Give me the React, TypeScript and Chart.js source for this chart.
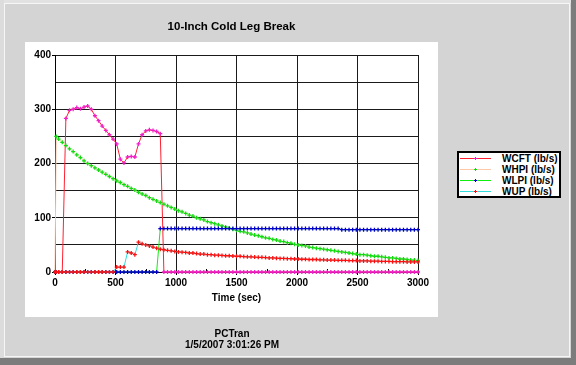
import React, { useEffect, useRef } from 'react';
import { Chart, registerables } from 'chart.js';

Chart.register(...registerables);

// ---- data ----
const times = [
  0, 10, 30, 60, 90, 120, 150, 180, 210, 240,
  270, 300, 330, 360, 390, 420, 450, 480, 510, 540,
  570, 600, 630, 660, 690, 720, 750, 780, 810, 840,
  870, 900, 930, 960, 990, 1020, 1050, 1080, 1110, 1140,
  1170, 1200, 1230, 1260, 1290, 1320, 1350, 1380, 1410, 1440,
  1470, 1500, 1530, 1560, 1590, 1620, 1650, 1680, 1710, 1740,
  1770, 1800, 1830, 1860, 1890, 1920, 1950, 1980, 2010, 2040,
  2070, 2100, 2130, 2160, 2190, 2220, 2250, 2280, 2310, 2340,
  2370, 2400, 2430, 2460, 2490, 2520, 2550, 2580, 2610, 2640,
  2670, 2700, 2730, 2760, 2790, 2820, 2850, 2880, 2910, 2940,
  2970, 3000,
];

const wcft = [
  0, 0, 0, 0, 283, 298, 300, 303, 301, 304,
  306, 300, 288, 279, 269, 261, 253, 245, 236, 208,
  201, 212, 213, 212, 236, 253, 260, 262, 261, 259,
  255, 0, 0, 0, 0, 0, 0, 0, 0, 0,
  0, 0, 0, 0, 0, 0, 0, 0, 0, 0,
  0, 0, 0, 0, 0, 0, 0, 0, 0, 0,
  0, 0, 0, 0, 0, 0, 0, 0, 0, 0,
  0, 0, 0, 0, 0, 0, 0, 0, 0, 0,
  0, 0, 0, 0, 0, 0, 0, 0, 0, 0,
  0, 0, 0, 0, 0, 0, 0, 0, 0, 0,
  0, 0,
];

const whpi = [
  0, 250, 245, 239, 233, 227, 222, 216, 211, 205,
  200, 196, 192, 188, 184, 180, 176, 172, 168, 165,
  161, 158, 154, 151, 147, 144, 141, 137, 134, 131,
  128, 125, 122, 119, 116, 113, 111, 108, 105, 103,
  100, 98, 96, 93, 91, 89, 87, 85, 83, 81,
  79, 77, 75, 74, 72, 70, 68, 67, 65, 63,
  62, 60, 59, 57, 56, 54, 53, 51, 50, 49,
  48, 46, 45, 44, 43, 42, 41, 40, 39, 38,
  37, 36, 35, 34, 33, 32, 32, 31, 30, 29,
  29, 28, 27, 26, 26, 25, 24, 24, 23, 22,
  22, 21,
];

const wlpi = [
  0, 0, 0, 0, 0, 0, 0, 0, 0, 0,
  0, 0, 0, 0, 0, 0, 0, 0, 0, 0,
  0, 0, 0, 0, 0, 0, 0, 0, 0, 0,
  80, 80, 80, 80, 80, 80, 80, 80, 80, 80,
  80, 80, 80, 80, 80, 80, 80, 80, 80, 80,
  80, 80, 80, 80, 80, 80, 80, 80, 80, 80,
  80, 80, 80, 80, 80, 80, 80, 80, 80, 80,
  80, 80, 80, 80, 80, 80, 80, 80, 80, 80,
  78, 78, 78, 78, 78, 78, 78, 78, 78, 78,
  78, 78, 78, 78, 78, 78, 78, 78, 78, 78,
  78, 78,
];

const wup = [
  0, 0, 0, 0, 0, 0, 0, 0, 0, 0,
  0, 0, 0, 0, 0, 0, 0, 0, 9, 9,
  9, 37, 35, 32, 55, 52, 50, 48, 46, 44,
  42, 41, 40, 39, 38, 37, 36.5, 36, 35, 35,
  34, 33, 33, 32, 32, 31, 31, 30.5, 30, 30,
  29.5, 29, 29, 28.5, 28, 28, 27.5, 27, 27, 26.5,
  26, 26, 25.5, 25, 25, 24.5, 24.5, 24, 24, 23.5,
  23.5, 23, 23, 23, 22.5, 22.5, 22, 22, 22, 21.5,
  21.5, 21.5, 21, 21, 21, 20.5, 20.5, 20.5, 20, 20,
  20, 19.5, 19.5, 19.5, 19, 19, 19, 19, 18.5, 18.5,
  18.5, 18.5,
];

const seriesNames = ['WCFT (lb/s)', 'WHPI (lb/s)', 'WLPI (lb/s)', 'WUP (lb/s)'];
const seriesValues = [wcft, whpi, wlpi, wup];
const lineColors = ['#ff2030', '#ffc8a8', '#10ee10', '#30dcdc'];
const markerColors = ['#f020c8', '#10dd10', '#0000c8', '#ff1010'];

const chartTitle = '10-Inch Cold Leg Break';
const xAxisTitle = 'Time (sec)';
const footerLines = ['PCTran', '1/5/2007 3:01:26 PM'];
const minorXTicks = [250, 750, 1250, 1750, 2250, 2750];

const FONT = "'Liberation Sans', Arial, Helvetica, sans-serif";

const minorTickPlugin = {
  id: 'minorTicks',
  beforeDatasetsDraw(chart: any) {
    const { ctx, chartArea, scales } = chart;
    ctx.save();
    ctx.strokeStyle = '#000';
    ctx.lineWidth = 1;
    for (const v of minorXTicks) {
      const px = Math.round(scales.x.getPixelForValue(v)) + 0.5;
      ctx.beginPath();
      ctx.moveTo(px, chartArea.bottom - 3);
      ctx.lineTo(px, chartArea.bottom + 1);
      ctx.stroke();
    }
    ctx.restore();
  },
};

export default function App() {
  const canvasRef = useRef<HTMLCanvasElement | null>(null);

  useEffect(() => {
    if (!canvasRef.current) return;
    const datasets = seriesNames.map((name, i) => ({
      label: name,
      data: times.map((t, k) => ({ x: t, y: seriesValues[i][k] })),
      borderColor: lineColors[i],
      backgroundColor: markerColors[i],
      borderWidth: 1,
      pointStyle: 'cross',
      pointRadius: 2,
      pointBorderWidth: 1.3,
      pointBorderColor: markerColors[i],
      pointBackgroundColor: markerColors[i],
      tension: 0,
      fill: false,
      clip: false,
      order: seriesNames.length - i,
    }));

    const chart = new Chart(canvasRef.current, {
      type: 'line',
      data: { datasets } as any,
      options: {
        responsive: false,
        maintainAspectRatio: false,
        devicePixelRatio: 1,
        animation: false,
        layout: { padding: { left: 25, top: 55, right: 158, bottom: 61 } },
        plugins: {
          legend: { display: false },
          tooltip: { enabled: false },
          title: { display: false },
        },
        scales: {
          x: {
            type: 'linear',
            min: 0,
            max: 3000,
            ticks: {
              stepSize: 500,
              color: '#000',
              padding: 2,
              maxRotation: 0,
              font: { family: FONT, size: 10, weight: 'bold' },
              callback: (v: any) => String(v),
            },
            grid: { color: '#1a1a1a', lineWidth: 1, tickLength: 3, tickColor: '#000' },
            border: { color: '#000', width: 1 },
            title: {
              display: true,
              text: xAxisTitle,
              color: '#000',
              padding: { top: 0, bottom: 0 },
              font: { family: FONT, size: 10, weight: 'bold' },
            },
            afterFit(scale: any) {
              scale.height = 32;
            },
          },
          y: {
            type: 'linear',
            min: 0,
            max: 400,
            ticks: {
              stepSize: 50,
              color: '#000',
              padding: 1,
              font: { family: FONT, size: 10, weight: 'bold' },
              callback: (v: any) => (Number(v) % 100 === 0 ? String(v) : ''),
            },
            grid: {
              color: '#1a1a1a',
              lineWidth: 1,
              tickLength: 3,
              tickColor: (c: any) => (c.tick && c.tick.value % 100 === 0 ? '#000' : 'rgba(0,0,0,0)'),
            },
            border: { color: '#000', width: 1 },
            afterFit(scale: any) {
              scale.width = 30;
            },
          },
        },
      } as any,
      plugins: [minorTickPlugin],
    });
    return () => chart.destroy();
  }, []);

  const txt: React.CSSProperties = {
    position: 'absolute',
    fontFamily: FONT,
    fontWeight: 'bold',
    fontSize: 10,
    color: '#000',
    whiteSpace: 'nowrap',
  };

  return (
    <div
      style={{
        position: 'fixed',
        left: 0,
        top: 0,
        width: 576,
        height: 365,
        background: '#d4d4d4',
        overflow: 'hidden',
      }}
    >
      {/* frame bevel */}
      <div style={{ position: 'absolute', left: 0, top: 0, width: 576, height: 3, background: '#e2e2e2' }} />
      <div style={{ position: 'absolute', left: 0, top: 0, width: 4, height: 365, background: '#dcdcdc' }} />
      <div style={{ position: 'absolute', left: 4, top: 3, width: 566, height: 1, background: '#f6f6f6' }} />
      <div style={{ position: 'absolute', left: 4, top: 3, width: 1, height: 354, background: '#f6f6f6' }} />
      <div style={{ position: 'absolute', left: 569, top: 3, width: 1, height: 354, background: '#f6f6f6' }} />
      <div style={{ position: 'absolute', left: 4, top: 356, width: 566, height: 1, background: '#f6f6f6' }} />
      <div style={{ position: 'absolute', left: 571, top: 0, width: 5, height: 365, background: '#7c7c7c' }} />
      <div style={{ position: 'absolute', left: 0, top: 358, width: 576, height: 7, background: '#7c7c7c' }} />

      {/* white plot panel */}
      <div style={{ position: 'absolute', left: 25, top: 42, width: 413, height: 275, background: '#ffffff' }} />

      <canvas
        ref={canvasRef}
        width={576}
        height={365}
        style={{ position: 'absolute', left: 0, top: 0, width: 576, height: 365 }}
      />

      {/* chart title */}
      <div style={{ ...txt, left: 0, top: 19, width: 463, textAlign: 'center', fontSize: 11.5, lineHeight: '15px' }}>
        {chartTitle}
      </div>

      {/* footer */}
      {footerLines.map((line, i) => (
        <div
          key={line}
          style={{ ...txt, left: 0, top: 328 + i * 10.5, width: 464, textAlign: 'center', lineHeight: '12px' }}
        >
          {line}
        </div>
      ))}

      {/* legend */}
      <div
        style={{
          position: 'absolute',
          left: 457,
          top: 151,
          width: 100,
          height: 43,
          border: '2px solid #000',
          background: '#ffffff',
        }}
      />
      {seriesNames.map((name, i) => {
        const cy = Math.round(157.5 + i * 11);
        return (
          <React.Fragment key={name}>
            <div style={{ position: 'absolute', left: 460, top: cy, width: 31, height: 1, background: lineColors[i] }} />
            <div style={{ position: 'absolute', left: 474, top: cy, width: 3, height: 1, background: markerColors[i] }} />
            <div style={{ position: 'absolute', left: 475, top: cy - 1, width: 1, height: 3, background: markerColors[i] }} />
            <div style={{ ...txt, left: 502, top: cy - 5.5, lineHeight: '12px' }}>{name}</div>
          </React.Fragment>
        );
      })}
    </div>
  );
}
